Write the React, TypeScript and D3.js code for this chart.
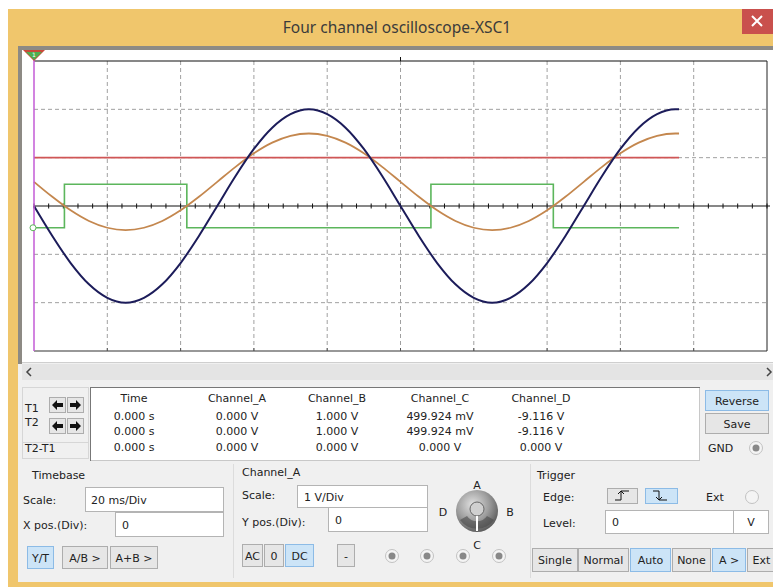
import React from "react";
import * as d3 from "d3";

const timeMs = [0, 5, 10, 15, 20, 25, 30, 35, 40, 45, 50, 55, 60, 65, 70, 75, 80, 85, 90, 95, 100,
  105, 110, 115, 120, 125, 130, 135, 140, 145, 150, 155, 160, 165, 170, 175, 176];
const traceBlue = [0, -0.62, -1.18, -1.62, -1.9, -2, -1.9, -1.62, -1.18, -0.62, 0, 0.62, 1.18, 1.62, 1.9, 2,
  1.9, 1.62, 1.18, 0.62, 0, -0.62, -1.18, -1.62, -1.9, -2, -1.9, -1.62, -1.18, -0.62, 0, 0.62, 1.18, 1.62, 1.9, 2, 2];
const traceOrange = [0.5, 0.19, -0.09, -0.31, -0.45, -0.5, -0.45, -0.31, -0.09, 0.19, 0.5, 0.81, 1.09, 1.31, 1.45, 1.5,
  1.45, 1.31, 1.09, 0.81, 0.5, 0.19, -0.09, -0.31, -0.45, -0.5, -0.45, -0.31, -0.09, 0.19, 0.5, 0.81, 1.09, 1.31, 1.45, 1.5, 1.5];
const greenTimes = [0, 8.3, 41.7, 108.3, 141.7, 176];
const greenLevels = [-0.45, 0.45, -0.45, 0.45, -0.45, -0.45];
const redTimes = [0, 176];
const redLevels = [1, 1];

const headers = ["Time", "Channel_A", "Channel_B", "Channel_C", "Channel_D"];
const rowT1 = ["0.000 s", "0.000 V", "1.000 V", "499.924 mV", "-9.116 V"];
const rowT2 = ["0.000 s", "0.000 V", "1.000 V", "499.924 mV", "-9.116 V"];
const rowDiff = ["0.000 s", "0.000 V", "0.000 V", "0.000 V", "0.000 V"];

const font = "DejaVu Sans";
const fs = 11;

function Btn({ x, y, w, h, label, active }: any) {
  return (
    <g>
      <rect x={x + 0.5} y={y + 0.5} width={w} height={h} fill={active ? "#cce4f7" : "#e6e6e6"}
        stroke={active ? "#8cbbe6" : "#adadad"} />
      <text x={x + w / 2 + 0.5} y={y + h / 2 + 4.5} textAnchor="middle" fontSize={fs} fill="#222">{label}</text>
    </g>
  );
}

function Field({ x, y, w, h, value, pad = 7 }: any) {
  return (
    <g>
      <rect x={x + 0.5} y={y + 0.5} width={w} height={h} fill="#fff" stroke="#b4b4b4" />
      <text x={x + pad} y={y + h / 2 + 4.5} fontSize={fs} fill="#222">{value}</text>
    </g>
  );
}

function Radio({ cx, cy, dot = true }: any) {
  return (
    <g>
      <circle cx={cx} cy={cy} r={6.5} fill="#f4f4f4" stroke="#c2c2c2" />
      {dot && <circle cx={cx} cy={cy} r={3.5} fill="#888" />}
    </g>
  );
}

export default function App() {
  const x = d3.scaleLinear().domain([0, 200]).range([34, 767]);
  const y = d3.scaleLinear().domain([-3, 3]).range([351, 61]);

  const smooth = d3.line<number>().x((_, i) => x(timeMs[i])).y((d) => y(d)).curve(d3.curveMonotoneX);
  const step = (ts: number[]) => d3.line<number>().x((_, i) => x(ts[i])).y((d) => y(d)).curve(d3.curveStepAfter);

  const vGrid = x.ticks(10).filter((t) => t > 0 && t < 200);
  const hGrid = y.ticks(6).filter((t) => t !== 0 && t > -3 && t < 3);
  const minor = d3.range(0, 200.001, 4);
  const colX = [134, 237, 337, 440, 541];

  return (
    <svg width={773} height={587} style={{ position: "absolute", left: 0, top: 0, fontFamily: font }}>
      <defs>
        <radialGradient id="knob" cx="40%" cy="35%" r="70%">
          <stop offset="0%" stopColor="#e2e2e2" />
          <stop offset="55%" stopColor="#9d9d9d" />
          <stop offset="100%" stopColor="#555" />
        </radialGradient>
      </defs>
      <rect width={773} height={587} fill="#fff" />
      {/* window frame */}
      <rect x={8} y={9} width={765} height={578} fill="#f0c66c" />
      <text x={397} y={33} textAnchor="middle" fontFamily="Noto Sans" fontSize={15.5} fill="#3b3b3b">
        Four channel oscilloscope-XSC1
      </text>
      <rect x={742} y={9} width={31} height={25} fill="#c9504d" />
      <path d="M752,16 L762,26 M762,16 L752,26" stroke="#fff" strokeWidth={2} />
      <rect x={18} y={46} width={755} height={536} fill="#f0f0f0" />
      <rect x={18} y={46} width={755} height={4} fill="#8d8a84" />
      <rect x={18} y={46} width={4} height={318} fill="#8d8a84" />

      {/* screen */}
      <rect x={22} y={50} width={751} height={312} fill="#fff" />
      {vGrid.map((t) => (
        <line key={"v" + t} x1={x(t)} x2={x(t)} y1={y(3)} y2={y(-3)} stroke="#a0a0a0" strokeDasharray="4,3" />
      ))}
      {hGrid.map((v) => (
        <line key={"h" + v} x1={x(0)} x2={x(200)} y1={y(v)} y2={y(v)} stroke="#a0a0a0" strokeDasharray="4,3" />
      ))}
      <line x1={x(0)} x2={x(200)} y1={y(3)} y2={y(3)} stroke="#111" strokeWidth={1.2} />
      <line x1={x(0)} x2={x(200)} y1={y(-3)} y2={y(-3)} stroke="#333" strokeWidth={1.2} />
      <line x1={x(200)} x2={x(200)} y1={y(3)} y2={y(-3)} stroke="#222" />
      <line x1={x(100)} x2={x(100)} y1={y(3) - 4} y2={y(3)} stroke="#111" />
      {vGrid.map((t) => (
        <line key={"b" + t} x1={x(t)} x2={x(t)} y1={y(-3) - 3} y2={y(-3)} stroke="#555" />
      ))}
      <line x1={x(0)} x2={x(200) + 3} y1={y(0)} y2={y(0)} stroke="#111" strokeWidth={1.2} />
      {minor.map((t) => (
        <line key={"m" + t} x1={x(t)} x2={x(t)} y1={y(0) - 2.5} y2={y(0) + 2.5} stroke="#111" />
      ))}

      <path d={step(redTimes)(redLevels) || ""} fill="none" stroke="#d05656" strokeWidth={1.6} />
      <path d={step(greenTimes)(greenLevels) || ""} fill="none" stroke="#5cb65c" strokeWidth={1.6} />
      <path d={smooth(traceOrange) || ""} fill="none" stroke="#c4874e" strokeWidth={1.8} />
      <path d={smooth(traceBlue) || ""} fill="none" stroke="#1c1c5a" strokeWidth={2} />

      <line x1={x(0)} x2={x(0)} y1={50} y2={y(-3)} stroke="#c35bd6" strokeWidth={1.5} />
      <circle cx={33} cy={y(-0.45)} r={3} fill="#fff" stroke="#5cb65c" />
      <path d="M23,50 L45,50 L34,61 Z" fill="#c84a3a" />
      <path d="M26,52 L42,52 L34,60 Z" fill="#4caf50" />
      <text x={34} y={57} textAnchor="middle" fontSize={6} fill="#fff">1</text>

      {/* scrollbar */}
      <rect x={22} y={362} width={751} height={1} fill="#cfcfcf" />
      <rect x={22} y={364} width={751} height={16} fill="#e4e4e4" />
      <path d="M31,368 L27,372 L31,376" fill="none" stroke="#444" strokeWidth={1.5} />
      <path d="M767,368 L771,372 L767,376" fill="none" stroke="#444" strokeWidth={1.5} />

      {/* cursor readout */}
      <rect x={22.5} y={387.5} width={66} height={55} fill="none" stroke="#d6d6d6" />
      <rect x={22.5} y={442.5} width={66} height={16} fill="none" stroke="#d6d6d6" />
      <text x={25} y={412} fontSize={fs} fill="#222">T1</text>
      <text x={25} y={426} fontSize={fs} fill="#222">T2</text>
      <text x={25} y={452} fontSize={fs} fill="#222">T2-T1</text>
      {[397, 418].map((by) => (
        <g key={by}>
          <rect x={49.5} y={by + 0.5} width={16} height={15} fill="#e6e6e6" stroke="#adadad" />
          <rect x={67.5} y={by + 0.5} width={16} height={15} fill="#e6e6e6" stroke="#adadad" />
          <path d={`M52,${by + 8} L57,${by + 3} L57,${by + 6} L63,${by + 6} L63,${by + 10} L57,${by + 10} L57,${by + 13} Z`} fill="#111" />
          <path d={`M81,${by + 8} L76,${by + 3} L76,${by + 6} L70,${by + 6} L70,${by + 10} L76,${by + 10} L76,${by + 13} Z`} fill="#111" />
        </g>
      ))}
      <rect x={90.5} y={387.5} width={609} height={73} fill="#fff" stroke="#c8c8c8" />
      <line x1={90.5} x2={90.5} y1={387} y2={461} stroke="#777" />
      <line x1={90} x2={700} y1={387.5} y2={387.5} stroke="#777" />
      {[headers, rowT1, rowT2, rowDiff].map((row, r) =>
        row.map((s, c) => (
          <text key={r + "-" + c} x={colX[c]} y={[402, 420, 435, 451][r]} textAnchor="middle" fontSize={fs} fill="#222">
            {s}
          </text>
        ))
      )}
      <Btn x={705} y={390} w={63} h={20} label="Reverse" active />
      <Btn x={705} y={413} w={63} h={20} label="Save" />
      <text x={708} y={452} fontSize={fs} fill="#222">GND</text>
      <Radio cx={756} cy={448} />

      {/* timebase */}
      <line x1={233.5} x2={233.5} y1={464} y2={578} stroke="#dcdcdc" />
      <line x1={530.5} x2={530.5} y1={464} y2={578} stroke="#dcdcdc" />
      <text x={32} y={479} fontSize={fs} fill="#222">Timebase</text>
      <text x={23} y={504} fontSize={fs} fill="#222">Scale:</text>
      <Field x={85} y={487} w={138} h={24} value="20 ms/Div" pad={6} />
      <text x={23} y={529} fontSize={fs} fill="#222">X pos.(Div):</text>
      <Field x={115} y={512} w={108} h={24} value="0" />
      <Btn x={27} y={546} w={26} h={22} label="Y/T" active />
      <Btn x={62} y={546} w={45} h={22} label="A/B >" />
      <Btn x={110} y={546} w={47} h={22} label="A+B >" />

      {/* channel A */}
      <text x={242} y={476} fontSize={fs} fill="#222">Channel_A</text>
      <text x={242} y={499} fontSize={fs} fill="#222">Scale:</text>
      <Field x={297} y={485} w={130} h={22} value="1  V/Div" />
      <text x={242} y={526} fontSize={fs} fill="#222">Y pos.(Div):</text>
      <Field x={328} y={507} w={99} h={24} value="0" />
      <Btn x={242} y={544} w={20} h={22} label="AC" />
      <Btn x={264} y={544} w={19} h={22} label="0" />
      <Btn x={285} y={544} w={28} h={22} label="DC" active />
      <Btn x={337} y={544} w={17} h={22} label="-" />
      {[392, 427, 463, 499].map((cx) => (
        <Radio key={cx} cx={cx} cy={556} />
      ))}
      <circle cx={477} cy={511} r={21} fill="url(#knob)" />
      <path d="M460,520 A21,21 0 0 0 494,520 L487,516 A12,12 0 0 1 467,516 Z" fill="#4a4a4a" opacity={0.6} />
      <circle cx={477} cy={509} r={7} fill="#d0d0d0" stroke="#666" />
      <line x1={477} x2={477} y1={516} y2={531} stroke="#fff" strokeWidth={2} />
      <text x={477} y={489} textAnchor="middle" fontSize={fs} fill="#222">A</text>
      <text x={443} y={516} textAnchor="middle" fontSize={fs} fill="#222">D</text>
      <text x={510} y={516} textAnchor="middle" fontSize={fs} fill="#222">B</text>
      <text x={477} y={549} textAnchor="middle" fontSize={fs} fill="#222">C</text>

      {/* trigger */}
      <text x={537} y={479} fontSize={fs} fill="#222">Trigger</text>
      <text x={543} y={501} fontSize={fs} fill="#222">Edge:</text>
      <rect x={607.5} y={488.5} width={30} height={15} fill="#e6e6e6" stroke="#adadad" />
      <path d="M615,500 H621 V491 H629 M618,494 L621,491 L624,494" fill="none" stroke="#111" />
      <rect x={645.5} y={488.5} width={32} height={15} fill="#cce4f7" stroke="#8cbbe6" />
      <path d="M653,491 H659 V500 H667 M656,497 L659,500 L662,497" fill="none" stroke="#111" />
      <text x={706} y={501} fontSize={fs} fill="#222">Ext</text>
      <Radio cx={752} cy={497} dot={false} />
      <text x={543} y={527} fontSize={fs} fill="#222">Level:</text>
      <Field x={605} y={510} w={128} h={23} value="0" />
      <rect x={733.5} y={510.5} width={35} height={23} fill="#fff" stroke="#b4b4b4" />
      <text x={751} y={526} textAnchor="middle" fontSize={fs} fill="#222">V</text>
      <Btn x={532} y={548} w={45} h={23} label="Single" />
      <Btn x={578} y={548} w={50} h={23} label="Normal" />
      <Btn x={630} y={548} w={40} h={23} label="Auto" active />
      <Btn x={672} y={548} w={38} h={23} label="None" />
      <Btn x={712} y={548} w={33} h={23} label="A >" active />
      <Btn x={747} y={548} w={28} h={23} label="Ext" />
    </svg>
  );
}
